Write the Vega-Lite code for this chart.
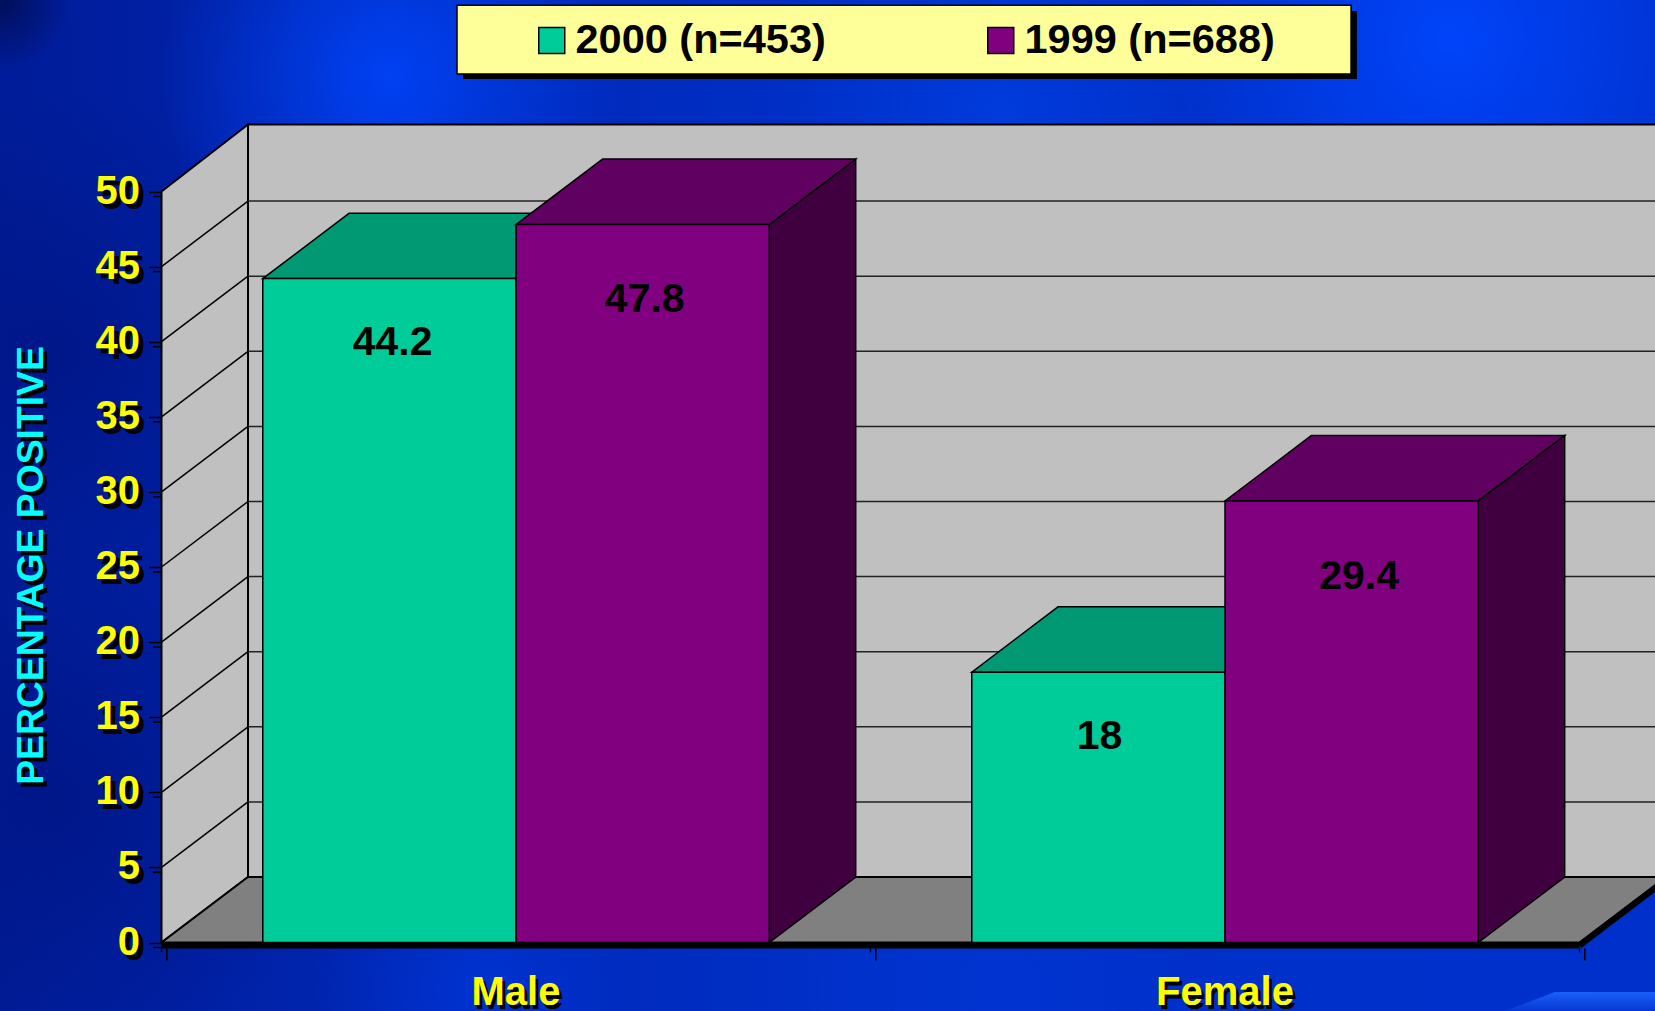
{"$schema":"https://vega.github.io/schema/vega-lite/v6.json","width":1655,"height":1011,"padding":0,"autosize":{"type":"none"},"background":"#0028b0",
"datasets":{"bars":[{"gender":"Male","year":2000,"series":"2000 (n=453)","value":44.2},{"gender":"Male","year":1999,"series":"1999 (n=688)","value":47.8},{"gender":"Female","year":2000,"series":"2000 (n=453)","value":18},{"gender":"Female","year":1999,"series":"1999 (n=688)","value":29.4}],
"ticks":[{"tick":0},{"tick":5},{"tick":10},{"tick":15},{"tick":20},{"tick":25},{"tick":30},{"tick":35},{"tick":40},{"tick":45},{"tick":50}],
"cats":[{"gender":"Male","idx":0},{"gender":"Female","idx":1}],
"bounds":[{"b":0},{"b":1},{"b":2}],
"one":[{"item":"shape"}]},
"data":{"name":"bars"},
"transform":[{"calculate":"(datum.gender=='Male'?0:1)+1/7+(datum.year==2000?0:5/14)","as":"XL"},{"calculate":"datum.XL+5/14","as":"XR"},{"calculate":"[0,1]","as":"t"},{"flatten":["t"]}],
"resolve":{"axis":{"x":"independent","y":"independent"}},
"encoding":{"x":{"field":"X","type":"quantitative","title":null,"axis":null,"scale":{"domain":[-0.2278,2.1065],"nice":false,"zero":false}},"y":{"field":"Y","type":"quantitative","title":null,"axis":null,"scale":{"domain":[-4.56,62.75],"nice":false,"zero":false}}},
"layer":[
{"data":{"name":"one"},"transform":[{"calculate":"-0.2278","as":"X"},{"calculate":"2.1065","as":"X2"},{"calculate":"62.75","as":"Y"},{"calculate":"-4.56","as":"Y2"}],"mark":{"type":"rect","fill":{"gradient":"linear","x1":0,"y1":0,"x2":1,"y2":0,"stops":[{"offset":0,"color":"#001c98"},{"offset":0.2,"color":"#0024ae"},{"offset":0.5,"color":"#0030c8"},{"offset":1,"color":"#0030cc"}]}},"encoding":{"x2":{"field":"X2"},"y2":{"field":"Y2"}}},
{"data":{"name":"one"},"transform":[{"calculate":"-0.5099","as":"X"},{"calculate":"0.2236","as":"X2"},{"calculate":"56.76","as":"Y"},{"calculate":"22.14","as":"Y2"}],"mark":{"type":"rect","fill":{"gradient":"radial","x1":0.5,"y1":0.5,"r1":0,"x2":0.5,"y2":0.5,"r2":0.5,"stops":[{"offset":0,"color":"rgba(0,20,130,0.7)"},{"offset":1,"color":"rgba(0,20,130,0)"}]}},"encoding":{"x2":{"field":"X2"},"y2":{"field":"Y2"}}},
{"data":{"name":"one"},"transform":[{"calculate":"-0.5381","as":"X"},{"calculate":"0.2518","as":"X2"},{"calculate":"28.13","as":"Y"},{"calculate":"-9.15","as":"Y2"}],"mark":{"type":"rect","fill":{"gradient":"radial","x1":0.5,"y1":0.5,"r1":0,"x2":0.5,"y2":0.5,"r2":0.5,"stops":[{"offset":0,"color":"rgba(0,20,130,0.7)"},{"offset":1,"color":"rgba(0,20,130,0)"}]}},"encoding":{"x2":{"field":"X2"},"y2":{"field":"Y2"}}},
{"data":{"name":"one"},"transform":[{"calculate":"-0.0021","as":"X"},{"calculate":"0.6467","as":"X2"},{"calculate":"73.07","as":"Y"},{"calculate":"42.44","as":"Y2"}],"mark":{"type":"rect","fill":{"gradient":"radial","x1":0.5,"y1":0.5,"r1":0,"x2":0.5,"y2":0.5,"r2":0.5,"stops":[{"offset":0,"color":"rgba(0,70,255,0.85)"},{"offset":1,"color":"rgba(0,70,255,0)"}]}},"encoding":{"x2":{"field":"X2"},"y2":{"field":"Y2"}}},
{"data":{"name":"one"},"transform":[{"calculate":"1.4224","as":"X"},{"calculate":"2.2123","as":"X2"},{"calculate":"78.73","as":"Y"},{"calculate":"41.44","as":"Y2"}],"mark":{"type":"rect","fill":{"gradient":"radial","x1":0.5,"y1":0.5,"r1":0,"x2":0.5,"y2":0.5,"r2":0.5,"stops":[{"offset":0,"color":"rgba(0,70,255,0.9)"},{"offset":1,"color":"rgba(0,70,255,0)"}]}},"encoding":{"x2":{"field":"X2"},"y2":{"field":"Y2"}}},
{"data":{"name":"one"},"transform":[{"calculate":"0.9006","as":"X"},{"calculate":"1.4647","as":"X2"},{"calculate":"68.74","as":"Y"},{"calculate":"42.11","as":"Y2"}],"mark":{"type":"rect","fill":{"gradient":"radial","x1":0.5,"y1":0.5,"r1":0,"x2":0.5,"y2":0.5,"r2":0.5,"stops":[{"offset":0,"color":"rgba(0,70,240,0.5)"},{"offset":1,"color":"rgba(0,70,240,0)"}]}},"encoding":{"x2":{"field":"X2"},"y2":{"field":"Y2"}}},
{"data":{"name":"one"},"transform":[{"calculate":"-0.3265","as":"X"},{"calculate":"-0.1291","as":"X2"},{"calculate":"67.41","as":"Y"},{"calculate":"58.09","as":"Y2"}],"mark":{"type":"rect","fill":{"gradient":"radial","x1":0.5,"y1":0.5,"r1":0,"x2":0.5,"y2":0.5,"r2":0.5,"stops":[{"offset":0,"color":"rgba(0,15,90,1)"},{"offset":1,"color":"rgba(0,15,90,0)"}]}},"encoding":{"x2":{"field":"X2"},"y2":{"field":"Y2"}}},
{"data":{"name":"one"},"transform":[{"calculate":"0.2095","as":"X"},{"calculate":"0.689","as":"X2"},{"calculate":"8.16","as":"Y"},{"calculate":"-14.48","as":"Y2"}],"mark":{"type":"rect","fill":{"gradient":"radial","x1":0.5,"y1":0.5,"r1":0,"x2":0.5,"y2":0.5,"r2":0.5,"stops":[{"offset":0,"color":"rgba(0,55,220,0.7)"},{"offset":1,"color":"rgba(0,55,220,0)"}]}},"encoding":{"x2":{"field":"X2"},"y2":{"field":"Y2"}}},
{"data":{"name":"one"},"transform":[{"calculate":"0.9006","as":"X"},{"calculate":"1.4647","as":"X2"},{"calculate":"10.15","as":"Y"},{"calculate":"-16.48","as":"Y2"}],"mark":{"type":"rect","fill":{"gradient":"radial","x1":0.5,"y1":0.5,"r1":0,"x2":0.5,"y2":0.5,"r2":0.5,"stops":[{"offset":0,"color":"rgba(0,55,220,0.4)"},{"offset":1,"color":"rgba(0,55,220,0)"}]}},"encoding":{"x2":{"field":"X2"},"y2":{"field":"Y2"}}},
{"data":{"values":[{"t":0},{"t":1}]},"transform":[{"calculate":"datum.t==0?-3.3:-4.56","as":"Y"},{"calculate":"datum.t==0?1.9654:1.8949","as":"X"},{"calculate":"2.2","as":"X2"}],"mark":{"type":"area","orient":"horizontal","fill":{"gradient":"linear","x1":0,"y1":0,"x2":0,"y2":1,"stops":[{"offset":0,"color":"rgba(30,100,255,0.9)"},{"offset":1,"color":"rgba(30,100,255,0.15)"}]}},"encoding":{"x2":{"field":"X2"}}},
{"data":{"name":"one"},"transform":[{"calculate":"0.4252","as":"X"},{"calculate":"1.686","as":"X2"},{"calculate":"62.02","as":"Y"},{"calculate":"57.49","as":"Y2"}],"mark":{"type":"rect","fill":"#000000"},"encoding":{"x2":{"field":"X2"},"y2":{"field":"Y2"}}},
{"data":{"name":"one"},"transform":[{"calculate":"0.4168","as":"X"},{"calculate":"1.6778","as":"X2"},{"calculate":"62.4","as":"Y"},{"calculate":"57.82","as":"Y2"}],"mark":{"type":"rect","fill":"#ffff99","stroke":"#000000","strokeWidth":1.5},"encoding":{"x2":{"field":"X2"},"y2":{"field":"Y2"}}},
{"data":{"name":"one"},"transform":[{"calculate":"0.122","as":"X"},{"calculate":"2.122","as":"X2"},{"calculate":"54.46","as":"Y"},{"calculate":"4.36","as":"Y2"}],"mark":{"type":"rect","fill":"#c0c0c0","stroke":"#000000","strokeWidth":2},"encoding":{"x2":{"field":"X2"},"y2":{"field":"Y2"}}},
{"data":{"values":[{"t":0},{"t":1}]},"transform":[{"calculate":"datum.t*0.122","as":"X"},{"calculate":"datum.t*4.36","as":"Y2"},{"calculate":"50+datum.t*4.46","as":"Y"}],"mark":{"type":"area","fill":"#c0c0c0","stroke":"#000000","strokeWidth":2},"encoding":{"y2":{"field":"Y2"}}},
{"data":{"values":[{"t":0},{"t":1}]},"transform":[{"calculate":"datum.t*4.36","as":"Y"},{"calculate":"datum.t*0.122","as":"X"},{"calculate":"2+datum.t*0.122","as":"X2"}],"mark":{"type":"area","orient":"horizontal","fill":"#808080","stroke":"#000000","strokeWidth":2},"encoding":{"x2":{"field":"X2"}}},
{"data":{"name":"ticks"},"transform":[{"filter":"datum.tick>0 && datum.tick<50"},{"calculate":"0.122","as":"X"},{"calculate":"2.122","as":"X2"},{"calculate":"datum.tick+4.36","as":"Y"}],"mark":{"type":"rule","stroke":"#222222","strokeWidth":1.5},"encoding":{"x2":{"field":"X2"}}},
{"data":{"name":"ticks"},"transform":[{"filter":"datum.tick>0 && datum.tick<50"},{"calculate":"0","as":"X"},{"calculate":"0.122","as":"X2"},{"calculate":"datum.tick","as":"Y"},{"calculate":"datum.tick+4.36","as":"Y2"}],"mark":{"type":"rule","stroke":"#000000","strokeWidth":1.5},"encoding":{"x2":{"field":"X2"},"y2":{"field":"Y2"}}},
{"data":{"name":"ticks"},"transform":[{"calculate":"-0.012","as":"X"},{"calculate":"0","as":"X2"},{"calculate":"datum.tick-0.33","as":"Y"}],"mark":{"type":"rule","stroke":"#000000","strokeWidth":1.5},"encoding":{"x2":{"field":"X2"}}},
{"data":{"name":"bounds"},"transform":[{"calculate":"datum.b","as":"X"},{"calculate":"-0.4","as":"Y"},{"calculate":"-0.65","as":"Y2"}],"mark":{"type":"rule","stroke":"#000000","strokeWidth":1.5},"encoding":{"y2":{"field":"Y2"}}},
{"data":{"name":"bounds"},"transform":[{"calculate":"datum.b+0.0075","as":"X"},{"calculate":"-0.4","as":"Y"},{"calculate":"-1.2","as":"Y2"}],"mark":{"type":"rule","stroke":"#000000","strokeWidth":1.5},"encoding":{"y2":{"field":"Y2"}}},

{"transform":[{"filter":"datum.year==2000"},{"calculate":"datum.XR+datum.t*0.122","as":"X"},{"calculate":"datum.value+datum.t*4.36","as":"Y"},{"calculate":"datum.t*4.36","as":"Y2"}],"mark":{"type":"area","fill":"#00664d","stroke":"#000000","strokeWidth":1.5},"encoding":{"y2":{"field":"Y2"},"detail":{"field":"gender"}}},
{"transform":[{"filter":"datum.year==2000"},{"calculate":"datum.XL+datum.t*0.122","as":"X"},{"calculate":"datum.XR+datum.t*0.122","as":"X2"},{"calculate":"datum.value+datum.t*4.36","as":"Y"}],"mark":{"type":"area","orient":"horizontal","fill":"#009973","stroke":"#000000","strokeWidth":1.5},"encoding":{"x2":{"field":"X2"},"detail":{"field":"gender"}}},
{"transform":[{"filter":"datum.year==2000 && datum.t==0"},{"calculate":"datum.XL","as":"X"},{"calculate":"datum.XR","as":"X2"},{"calculate":"datum.value","as":"Y"},{"calculate":"0","as":"Y2"}],"mark":{"type":"rect","stroke":"#000000","strokeWidth":1.5},"encoding":{"x2":{"field":"X2"},"y2":{"field":"Y2"},"color":{"field":"series","type":"nominal","scale":{"domain":["2000 (n=453)","1999 (n=688)"],"range":["#00cc99","#800080"]},"legend":{"title":null,"orient":"none","legendX":531,"legendY":20,"direction":"horizontal","columns":2,"symbolType":"square","symbolSize":676,"symbolStrokeColor":"#000000","symbolStrokeWidth":1.5,"symbolOpacity":1,"labelFont":"Liberation Sans","labelFontWeight":"bold","labelFontSize":41.5,"labelColor":"#000000","labelOffset":3,"labelLimit":0,"columnPadding":154,"padding":0,"rowPadding":0,"clipHeight":41}}}},

{"transform":[{"filter":"datum.year==1999"},{"calculate":"datum.XR+datum.t*0.122","as":"X"},{"calculate":"datum.value+datum.t*4.36","as":"Y"},{"calculate":"datum.t*4.36","as":"Y2"}],"mark":{"type":"area","fill":"#400040","stroke":"#000000","strokeWidth":1.5},"encoding":{"y2":{"field":"Y2"},"detail":{"field":"gender"}}},
{"transform":[{"filter":"datum.year==1999"},{"calculate":"datum.XL+datum.t*0.122","as":"X"},{"calculate":"datum.XR+datum.t*0.122","as":"X2"},{"calculate":"datum.value+datum.t*4.36","as":"Y"}],"mark":{"type":"area","orient":"horizontal","fill":"#600060","stroke":"#000000","strokeWidth":1.5},"encoding":{"x2":{"field":"X2"},"detail":{"field":"gender"}}},
{"transform":[{"filter":"datum.year==1999 && datum.t==0"},{"calculate":"datum.XL","as":"X"},{"calculate":"datum.XR","as":"X2"},{"calculate":"datum.value","as":"Y"},{"calculate":"0","as":"Y2"}],"mark":{"type":"rect","stroke":"#000000","strokeWidth":1.5},"encoding":{"x2":{"field":"X2"},"y2":{"field":"Y2"},"color":{"field":"series","type":"nominal","scale":{"domain":["2000 (n=453)","1999 (n=688)"],"range":["#00cc99","#800080"]},"legend":null}}},

{"data":{"name":"one"},"transform":[{"calculate":"0","as":"X"},{"calculate":"2","as":"X2"},{"calculate":"-0.2","as":"Y"}],"mark":{"type":"rule","stroke":"#000000","strokeWidth":6},"encoding":{"x2":{"field":"X2"}}},
{"data":{"name":"one"},"transform":[{"calculate":"2","as":"X"},{"calculate":"2.122","as":"X2"},{"calculate":"-0.2","as":"Y"},{"calculate":"4.16","as":"Y2"}],"mark":{"type":"rule","stroke":"#000000","strokeWidth":6},"encoding":{"x2":{"field":"X2"},"y2":{"field":"Y2"}}},

{"transform":[{"filter":"datum.t==0"},{"calculate":"(datum.XL+datum.XR)/2+(datum.gender=='Male'?(datum.year==2000?0.0045:0.003):(datum.year==2000?0.0015:0.0105))","as":"X"},{"calculate":"datum.value-(datum.year==2000?4.29:5.04)","as":"Y"}],"mark":{"type":"text","font":"Liberation Sans","fontWeight":"bold","fontSize":41,"color":"#000000","baseline":"middle","align":"center"},"encoding":{"text":{"field":"value","type":"quantitative"}}},

{"data":{"name":"ticks"},"transform":[{"calculate":"0","as":"X"},{"calculate":"datum.tick","as":"Y"}],"mark":{"type":"text","font":"Liberation Sans","fontWeight":"bold","fontSize":40,"color":"#000000","align":"right","baseline":"middle","dx":-16.5,"dy":5},"encoding":{"text":{"field":"tick","type":"quantitative"}}},
{"data":{"name":"one"},"transform":[{"calculate":"'PERCENTAGE POSITIVE'","as":"label"},{"calculate":"-0.183","as":"X"},{"calculate":"25.13","as":"Y"}],"mark":{"type":"text","font":"Liberation Sans","fontWeight":"bold","fontSize":37.3,"color":"#000000","align":"center","baseline":"middle","angle":270,"dx":-4.5,"dy":4},"encoding":{"text":{"field":"label"}}},
{"data":{"name":"cats"},"transform":[{"calculate":"datum.idx+0.5","as":"X"},{"calculate":"-3.36","as":"Y"}],"mark":{"type":"text","font":"Liberation Sans","fontWeight":"bold","fontSize":40,"color":"#000000","align":"center","baseline":"middle","dx":3,"dy":4},"encoding":{"text":{"field":"gender"}}},

{"data":{"name":"ticks"},"transform":[{"calculate":"0","as":"X"},{"calculate":"datum.tick","as":"Y"}],"mark":{"type":"text","font":"Liberation Sans","fontWeight":"bold","fontSize":40,"color":"#ffff00","align":"right","baseline":"middle","dx":-21.5},"encoding":{"text":{"field":"tick","type":"quantitative"},
"y":{"field":"Y","type":"quantitative","title":"PERCENTAGE POSITIVE","scale":{"domain":[-4.56,62.75],"nice":false,"zero":false},"axis":{"orient":"left","offset":-161.5,"values":[0,5,10,15,20,25,30,35,40,45,50],"format":"d","grid":false,"domain":false,"ticks":true,"tickSize":13,"tickColor":"#000000","tickWidth":1.5,"labels":false,"labelFont":"Liberation Sans","zindex":1,"titleFont":"Liberation Sans","titleFontWeight":"bold","titleFontSize":37.3,"titleColor":"#00ffff","titleX":-129.75,"titleY":565,"titleAngle":270,"titleAlign":"center","titleBaseline":"middle"}}}},
{"data":{"name":"cats"},"transform":[{"calculate":"datum.idx+0.5","as":"X"},{"calculate":"-3.36","as":"Y"}],"mark":{"type":"text","font":"Liberation Sans","fontWeight":"bold","fontSize":40,"color":"#ffff00","align":"center","baseline":"middle"},"encoding":{"text":{"field":"gender"}}}
],
"config":{"view":{"stroke":null}}}
